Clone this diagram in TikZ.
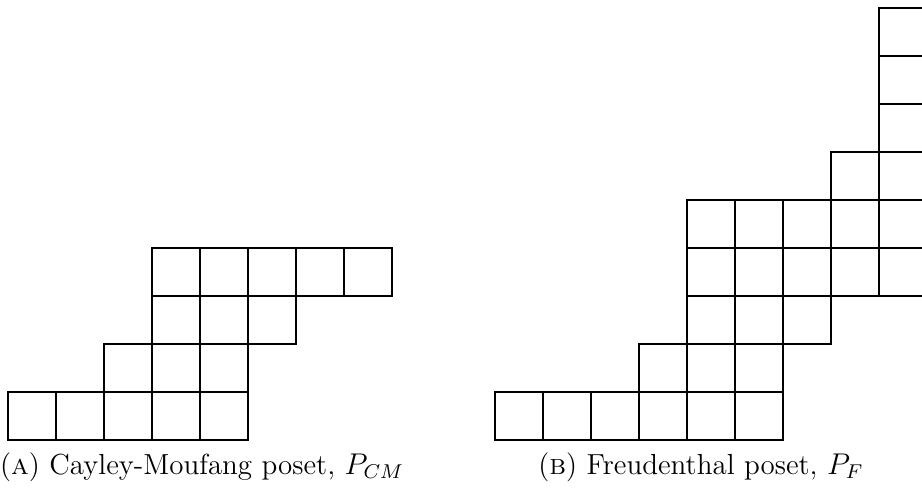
\documentclass[tikz,border=0pt]{standalone}
\begin{document}
\begin{tikzpicture}[x=0.4pt,y=-0.4pt,
  cellbox/.style={draw=black, line width=0.55pt},
  capt/.style={anchor=base, inner sep=0pt, font=\fontsize{11.6}{14}\selectfont}]
\useasboundingbox (0,0) rectangle (922,489);
% Cayley-Moufang poset
\foreach \c/\r in {0/0,1/0,2/0,3/0,4/0, 2/1,3/1,4/1, 3/2,4/2,5/2, 3/3,4/3,5/3,6/3,7/3}
  \draw[cellbox] ({8+48*\c},{392-48*\r}) rectangle ++(48,48);
% Freudenthal poset
\foreach \c/\r in {0/0,1/0,2/0,3/0,4/0,5/0, 3/1,4/1,5/1, 4/2,5/2,6/2,
  4/3,5/3,6/3,7/3,8/3, 4/4,5/4,6/4,7/4,8/4, 7/5,8/5, 8/6, 8/7, 8/8}
  \draw[cellbox] ({495+48*\c},{392-48*\r}) rectangle ++(48,48);
\node[capt] (capA) at (202,474) {(\textsc{a}) Cayley-Moufang poset, $P_{CM}$};
\node[capt] (capB) at (701,474) {(\textsc{b}) Freudenthal poset, $P_F$};
\end{tikzpicture}
\end{document}
